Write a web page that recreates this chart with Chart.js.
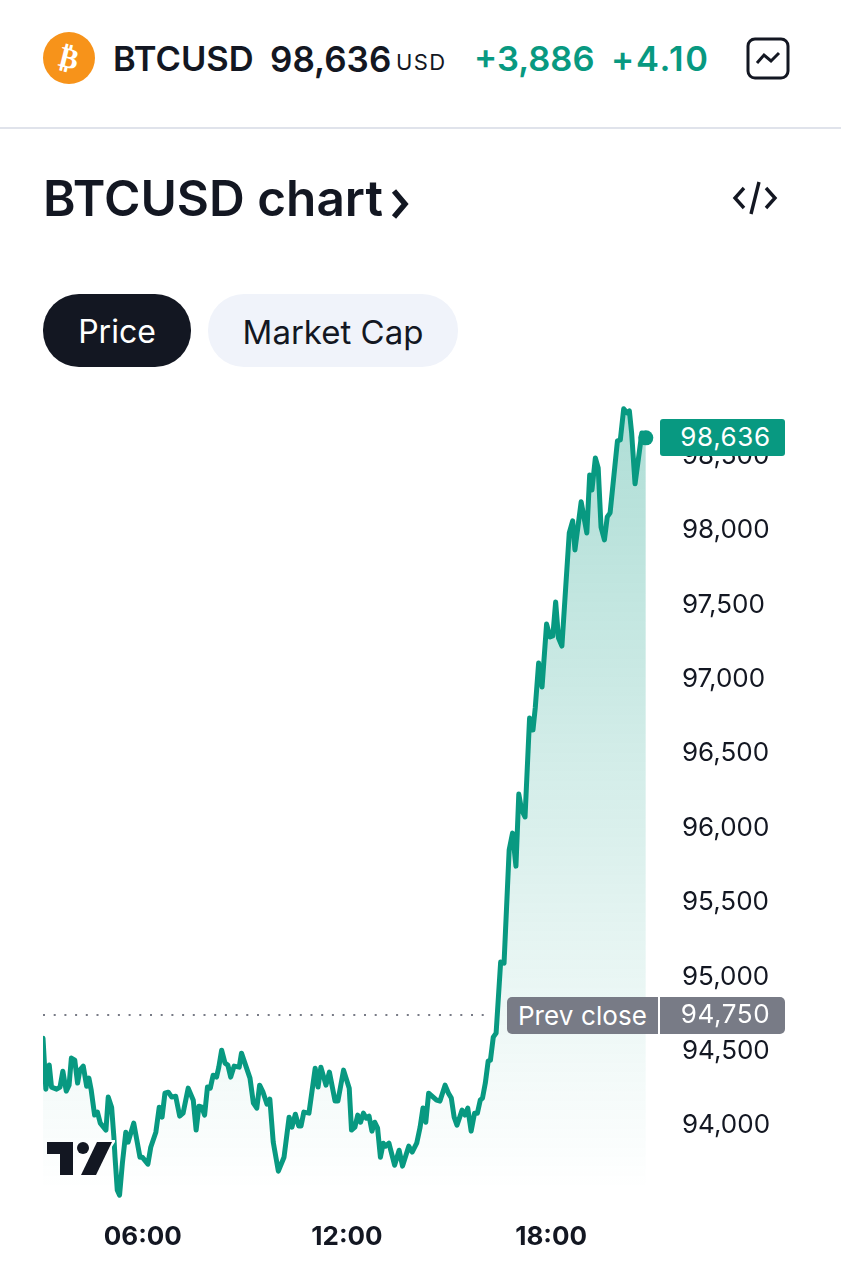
<!DOCTYPE html>
<html>
<head>
<meta charset="utf-8">
<title>BTCUSD chart</title>
<script src="https://cdn.jsdelivr.net/npm/chart.js@4"></script>
<style>
  html, body { margin: 0; padding: 0; background: #fff; }
  body { width: 841px; height: 1280px; position: relative; overflow: hidden; font-family: Inter, "Noto Sans", sans-serif; color: #131722; }
  .abs { position: absolute; white-space: nowrap; }
  #wrap { position: absolute; left: 0; top: 360px; width: 841px; height: 900px; }
  .tag { position: absolute; color: #fff; font-size: 26px; line-height: 36px; text-align: center; letter-spacing: 0.6px; }
</style>
</head>
<body>

<svg class="abs" style="left:43px;top:32px" width="52" height="52" viewBox="0 0 52 52">
  <circle cx="26" cy="26" r="26" fill="#f7931a"/>
  <text x="26" y="36" text-anchor="middle" font-family="DejaVu Sans" font-weight="700" font-size="29" fill="#fff" transform="rotate(14 26 26)">₿</text>
</svg>
<div class="abs" style="left:113px;top:39px;font-size:34.5px;line-height:40px;font-weight:600">BTCUSD</div>
<div class="abs" style="left:270px;top:39px;font-size:35px;line-height:40px;font-weight:600">98,636</div>
<div class="abs" style="left:396px;top:47px;font-size:22px;line-height:30px;letter-spacing:1.4px">USD</div>
<div class="abs" style="left:474px;top:39px;font-size:34.5px;line-height:40px;font-weight:600;color:#089981">+3,886</div>
<div class="abs" style="left:611px;top:39px;font-size:34.5px;line-height:40px;font-weight:600;letter-spacing:1.7px;color:#089981">+4.10</div>
<svg class="abs" style="left:746px;top:37px" width="44" height="43" viewBox="0 0 44 43">
  <rect x="2" y="2" width="40" height="39" rx="7" fill="none" stroke="#131722" stroke-width="3"/>
  <path d="M11 26 L18 18 L25 24 L33 16" fill="none" stroke="#131722" stroke-width="3"/>
</svg>
<div class="abs" style="left:0;top:127px;width:841px;height:2px;background:#e0e3eb"></div>

<div class="abs" style="left:43px;top:168px;font-size:49.5px;line-height:60px;font-weight:600">BTCUSD chart</div>
<svg class="abs" style="left:390px;top:188px" width="20" height="32" viewBox="0 0 20 32">
  <path d="M4 3 L15 16 L4 29" fill="none" stroke="#131722" stroke-width="5.5"/>
</svg>
<svg class="abs" style="left:732px;top:180px" width="46" height="36" viewBox="0 0 46 36">
  <path d="M12 8 L3 18 L12 28 M34 8 L43 18 L34 28 M27 2 L19 34" fill="none" stroke="#131722" stroke-width="3.4"/>
</svg>

<div class="abs" style="left:43px;top:294px;width:148px;height:73px;border-radius:36px;background:#131722;color:#fff;font-size:32px;line-height:76px;text-align:center">Price</div>
<div class="abs" style="left:208px;top:294px;width:250px;height:73px;border-radius:36px;background:#f0f3fa;font-size:33px;line-height:76px;text-align:center">Market Cap</div>

<div id="wrap"><canvas id="btcChart" width="841" height="900"></canvas></div>

<div class="tag" style="left:660px;top:419px;width:125px;height:37px;padding-left:6px;box-sizing:border-box;background:#089981;border-radius:3px">98,636</div>
<div class="tag" style="left:507px;top:997px;width:151px;height:37px;letter-spacing:0.1px;background:#787b86;border-radius:5px 0 0 5px;line-height:38px">Prev close</div>
<div class="tag" style="left:660px;top:997px;width:125px;height:37px;padding-left:6px;box-sizing:border-box;background:#787b86;border-radius:0 5px 5px 0;line-height:34px">94,750</div>

<svg class="abs" style="left:45px;top:1140px" width="70" height="37" viewBox="0 0 70 37">
  <path d="M46 2 H67 L46 35 H25 Z" fill="#fff" stroke="#fff" stroke-width="5"/>
  <path d="M2 2 H28 V35 H15 V14 H2 Z" fill="#131722"/>
  <circle cx="38" cy="8" r="6" fill="#131722"/>
  <path d="M52 2 H67 L51 35 H36 Z" fill="#131722"/>
</svg>

<script>
// minutes since midnight
const times = [184,189,195,199,208,214,219,225,230,234,240,245,249,255,261,265,269,275,280,285,295,299,305,309,311,315,319,324,330,334,344,355,359,369,374,383,389,394,399,405,411,418,425,431,440,449,454,459,464,469,474,479,484,490,494,499,505,510,515,521,530,534,549,555,561,566,572,579,584,590,599,609,618,623,629,635,639,644,653,664,669,674,683,689,699,704,714,724,728,734,739,744,749,754,759,764,769,774,779,784,788,794,804,812,818,829,835,843,849,854,859,864,878,884,893,899,904,909,914,923,928,933,939,945,950,955,959,964,969,973,978,983,991,997,1006,1012,1018,1023,1028,1034,1042,1048,1052,1058,1064,1072,1078,1083,1088,1093,1099,1106,1112,1118,1122,1133,1143,1148,1152,1158,1163,1168,1174,1179,1184,1197,1202,1208,1214,1218,1222,1228,1240,1247];
const prices = [94578,94235,94397,94249,94235,94249,94356,94222,94262,94444,94430,94276,94363,94390,94255,94309,94229,94061,94081,94007,93960,94182,94114,93913,93778,93556,93523,93738,93946,93879,94007,93778,93778,93731,93845,93946,94114,94047,94208,94215,94182,94188,94054,94074,94242,94161,93960,94121,94114,94061,94249,94242,94329,94316,94383,94497,94410,94397,94316,94390,94383,94477,94309,94141,94108,94262,94215,94134,94168,93879,93684,93778,94047,93980,94067,93987,93987,94081,94074,94376,94249,94383,94262,94350,94155,94155,94363,94242,93960,93980,94061,94013,94074,94040,94054,93953,94013,93973,93778,93872,93852,93872,93724,93825,93718,93852,93812,93872,93980,94108,94013,94208,94161,94155,94262,94208,94175,94047,93993,94094,94061,94108,93953,94074,94074,94161,94175,94276,94424,94430,94585,94612,95089,95082,95842,95956,95734,96218,96111,96064,96729,96649,96797,97099,96938,97361,97274,97281,97509,97267,97213,97624,97973,98054,97859,98182,97973,98363,98262,98477,98410,98013,97926,98081,98108,98592,98598,98807,98780,98793,98645,98303,98645,98612];

const yTicks = [94000,94500,95000,95500,96000,96500,97000,97500,98000,98500];
const xTicks = [360,720,1080];

// dotted prev close line
const prevTimes = [184,972];
const prevLine = [94733,94733];

const green = "#089981";

function fillGradient(context) {
  const area = context.chart.chartArea;
  if (!area) return "rgba(8,153,129,0.3)";
  const g = context.chart.ctx.createLinearGradient(0, 40, 0, 830);
  g.addColorStop(0, "rgba(8,153,129,0.33)");
  g.addColorStop(1, "rgba(8,153,129,0)");
  return g;
}

function hhmm(m) {
  const h = Math.floor(m / 60);
  return String(h).padStart(2, "0") + ":00";
}

new Chart(document.getElementById("btcChart").getContext("2d"), {
  type: "line",
  data: {
    datasets: [
      {
        data: times.map((t, i) => ({ x: t, y: prices[i] })),
        borderColor: green,
        borderWidth: 5,
        borderJoinStyle: "round",
        borderCapStyle: "round",
        backgroundColor: fillGradient,
        fill: "start",
        tension: 0,
        pointBackgroundColor: green,
        pointBorderWidth: 0,
        pointRadius: (c) => (c.dataIndex === times.length - 1 ? 7.5 : 0),
      },
      {
        data: prevTimes.map((t, i) => ({ x: t, y: prevLine[i] })),
        borderColor: "#787b86",
        borderWidth: 2,
        borderDash: [2, 8.7],
        pointRadius: 0,
        fill: false,
      },
    ],
  },
  options: {
    responsive: false,
    animation: false,
    layout: { padding: { left: 43, top: 35, right: 0, bottom: 0 } },
    plugins: { legend: { display: false }, tooltip: { enabled: false } },
    scales: {
      x: {
        type: "linear",
        min: 184,
        max: 1272,
        afterBuildTicks: (s) => { s.ticks = xTicks.map((v) => ({ value: v })); },
        afterFit: (s) => { s.height = 54; },
        grid: { display: false, drawTicks: false },
        border: { display: false },
        ticks: {
          callback: (v) => hhmm(v),
          color: "#131722",
          font: { family: "Inter", size: 26, weight: "700" },
          padding: 16,
          maxRotation: 0,
        },
      },
      y: {
        position: "right",
        min: 93450,
        max: 98900,
        afterBuildTicks: (s) => { s.ticks = yTicks.map((v) => ({ value: v })); },
        afterFit: (s) => { s.width = 181; },
        grid: { display: false, drawTicks: false },
        border: { display: false },
        ticks: {
          // empty first line + tiny lineHeight nudges the label down 1.5px
          callback: (v) => ["", v.toLocaleString("en-US")],
          color: "#131722",
          font: { family: "Inter", size: 26, lineHeight: "3px" },
          padding: 22,
        },
      },
    },
  },
});
</script>
</body>
</html>
